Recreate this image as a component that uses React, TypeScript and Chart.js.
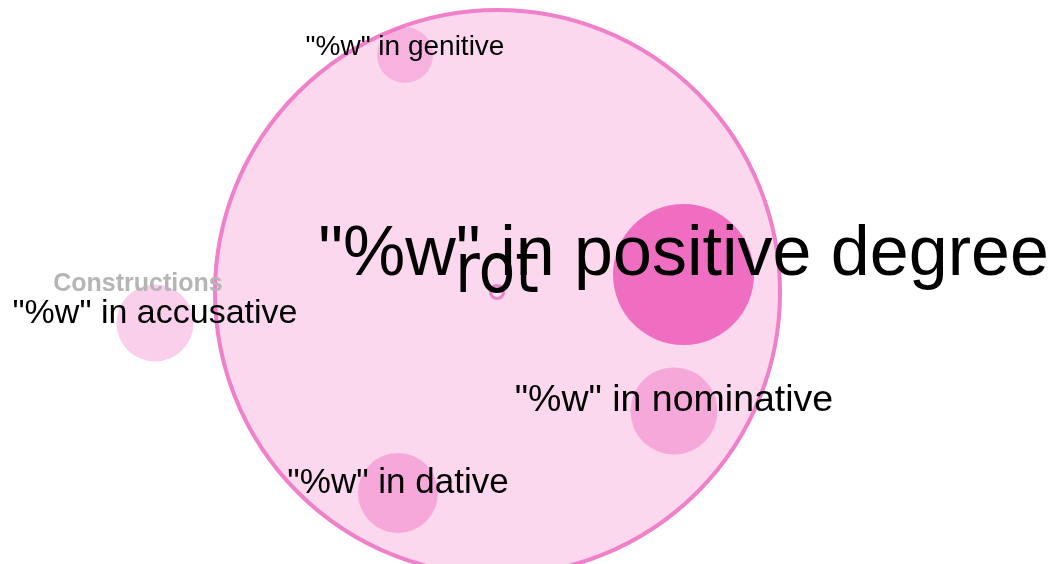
import React, { useEffect, useRef } from "react";
import { Chart, registerables } from "chart.js";

Chart.register(...registerables);

// Packed-bubble data (x, y in plot units; r = bubble radius)
const nodeNames = [
  "root",
  "rot",
  '"%w" in positive degree',
  '"%w" in genitive',
  '"%w" in accusative',
  '"%w" in nominative',
  '"%w" in dative',
];
const nodeLabels = ["", "rot", '"%w" in positive degree', '"%w" in genitive', '"%w" in accusative', '"%w" in nominative', '"%w" in dative'];
const nodeX = [497.5, 497, 683.5, 405, 155, 674, 398];
const nodeY = [292.5, 292, 274.5, 55, 323, 411, 493];
const nodeR = [282.5, 6.5, 70.5, 28, 38.5, 43.5, 40];
const groupTitle = "Constructions";

const W = 1054;
const H = 564;

const fills = [
  "#fbd8ee",
  "#fde8f5",
  "#f06ec2",
  "rgba(240,110,194,0.35)",
  "rgba(240,110,194,0.33)",
  "rgba(240,110,194,0.45)",
  "rgba(240,110,194,0.45)",
];
const strokes = ["#ef80c9", "#ef80c9", "transparent", "transparent", "transparent", "transparent", "transparent"];
const borderWidths = [4, 3, 0, 0, 0, 0, 0];
const fonts = [
  "",
  "70px 'DejaVu Sans'",
  "70px 'Liberation Sans', Arial, sans-serif",
  "28px 'Liberation Sans', Arial, sans-serif",
  "34px 'Liberation Sans', Arial, sans-serif",
  "37.5px 'Liberation Sans', Arial, sans-serif",
  "35px 'Liberation Sans', Arial, sans-serif",
];
const maxWidths: (number | undefined)[] = [undefined, 84, undefined, undefined, undefined, undefined, undefined];
// label draw order (positive degree first, then rot on top, then others)
const labelOrder = [2, 1, 3, 4, 5, 6];

const labelPlugin = {
  id: "bubbleLabels",
  afterDatasetsDraw(chart: any) {
    const ctx = chart.ctx as CanvasRenderingContext2D;
    const meta = chart.getDatasetMeta(0);
    ctx.save();
    ctx.textAlign = "center";
    ctx.textBaseline = "alphabetic";
    ctx.fillStyle = "#b5b5b5";
    ctx.font = "bold 25px 'Liberation Sans', Arial, sans-serif";
    ctx.fillText(groupTitle, 138, 291);
    ctx.fillStyle = "#000000";
    for (const i of labelOrder) {
      const el = meta.data[i];
      if (!el || !nodeLabels[i]) continue;
      ctx.font = fonts[i];
      const mw = maxWidths[i];
      if (mw) ctx.fillText(nodeLabels[i], el.x, el.y, mw);
      else ctx.fillText(nodeLabels[i], el.x, el.y);
    }
    ctx.restore();
  },
};

export default function App() {
  const canvasRef = useRef<HTMLCanvasElement | null>(null);

  useEffect(() => {
    if (!canvasRef.current) return;
    const data = nodeNames.map((_, i) => ({ x: nodeX[i], y: nodeY[i], r: nodeR[i] }));
    const chart = new Chart(canvasRef.current, {
      type: "bubble",
      data: {
        datasets: [
          {
            label: groupTitle,
            data,
            backgroundColor: fills,
            borderColor: strokes,
            borderWidth: borderWidths,
            hoverRadius: 0,
            clip: false,
          } as any,
        ],
      },
      options: {
        animation: false,
        responsive: false,
        devicePixelRatio: 1,
        layout: { padding: 0, autoPadding: false },
        events: [],
        plugins: {
          legend: { display: false },
          tooltip: { enabled: false },
          title: { display: false },
        },
        scales: {
          x: { type: "linear", min: 0, max: W, display: false },
          y: { type: "linear", min: 0, max: H, reverse: true, display: false },
        },
      },
      plugins: [labelPlugin],
    });
    return () => chart.destroy();
  }, []);

  return (
    <div style={{ position: "fixed", left: 0, top: 0, width: W, height: H, background: "#ffffff" }}>
      <canvas ref={canvasRef} width={W} height={H} style={{ display: "block" }} />
    </div>
  );
}
